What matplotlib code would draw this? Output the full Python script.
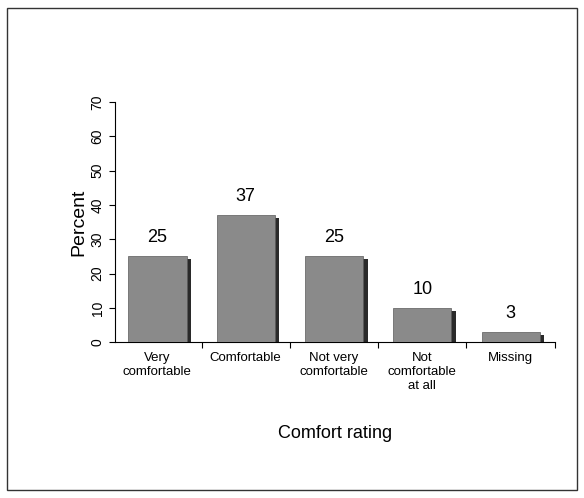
import matplotlib
matplotlib.use("Agg")
import matplotlib.pyplot as plt
from matplotlib.patches import Rectangle

categories = ["Very\ncomfortable", "Comfortable", "Not very\ncomfortable", "Not\ncomfortable\nat all", "Missing"]
percent = [25, 37, 25, 10, 3]
yticks = [0, 10, 20, 30, 40, 50, 60, 70]

plt.rcParams['font.family'] = ['Liberation Sans', 'DejaVu Sans']
fig = plt.figure(figsize=(5.84, 4.98), dpi=100)
fig.patches.append(Rectangle((0.012, 0.016), 0.976, 0.968, transform=fig.transFigure,
                             fill=False, edgecolor='#333333', linewidth=1))
ax = fig.add_axes([0.197, 0.313, 0.753, 0.482])

x = list(range(len(categories)))
# dark shadow on the right side of each bar
ax.bar([i + 0.04 for i in x], [v - 0.8 for v in percent], width=0.68, color='#2a2a2a', zorder=2)
ax.bar(x, percent, width=0.66, color='#8a8a8a', edgecolor='#5a5a5a', linewidth=0.5, zorder=3)
for i, v in zip(x, percent):
    ax.text(i, v + 3, str(v), ha='center', va='bottom', fontsize=13)

ax.set_xlim(-0.48, 4.41)
ax.set_ylim(0, 70)
ax.set_yticks(yticks)
ax.set_yticklabels([str(t) for t in yticks], rotation=90, va='center', fontsize=10)
ax.set_xticks([i + 0.5 for i in x])
ax.set_xticklabels([])
ax.tick_params(axis='x', direction='out', length=4)
ax.tick_params(axis='y', direction='out', length=4)
for i, c in zip(x, categories):
    ax.text(i, -3, c, ha='center', va='top', fontsize=9.5)
ax.spines['top'].set_visible(False)
ax.spines['right'].set_visible(False)
ax.set_ylabel("Percent", fontsize=14, labelpad=2)
ax.set_xlabel("Comfort rating", fontsize=13, labelpad=52)

fig.savefig("out.png", dpi=100)
